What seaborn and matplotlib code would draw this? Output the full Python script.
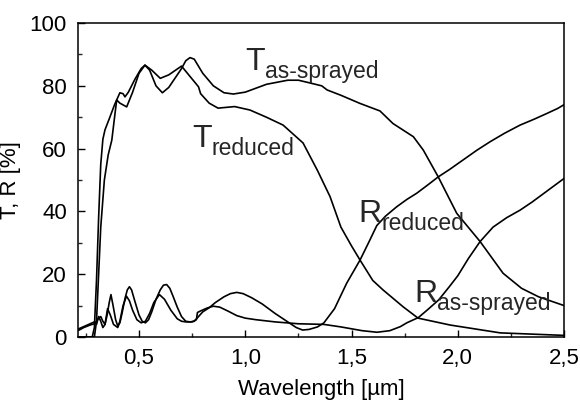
import matplotlib
matplotlib.use("Agg")
import matplotlib.pyplot as plt
import seaborn as sns
import pandas as pd
from matplotlib.ticker import MultipleLocator, FuncFormatter

# ---------------- data ----------------
t_as_x = [0.213, 0.28, 0.29, 0.30, 0.31, 0.32, 0.33, 0.34, 0.36, 0.385,
          0.41, 0.425, 0.434, 0.45, 0.48, 0.51, 0.528, 0.55, 0.58, 0.61,
          0.64, 0.67, 0.70, 0.72, 0.74, 0.76, 0.80, 0.85, 0.90, 0.944,
          1.00, 1.10, 1.20, 1.25, 1.30, 1.36, 1.385, 1.45, 1.54, 1.634,
          1.695, 1.791, 1.838, 1.908, 1.995, 2.105, 2.213, 2.30, 2.38, 2.5]
t_as_y = [0.0, 0.0, 3, 18, 38, 55, 63, 66, 69.5, 74,
          77.8, 77.5, 76.5, 78, 82, 85.5, 86.6, 85, 80, 77.8,
          79.5, 82.5, 85.5, 88, 89, 88.5, 84, 80, 77.8, 77.4,
          78, 80.5, 81.8, 81.8, 81, 80, 78.7, 77, 74.4, 72,
          68, 63.8, 59.5, 51, 39.4, 30.4, 20.3, 15.5, 12.8, 10]

t_red_x = [0.213, 0.29, 0.30, 0.31, 0.32, 0.337, 0.355, 0.372, 0.385, 0.395,
           0.41, 0.442, 0.47, 0.50, 0.528, 0.56, 0.60, 0.64, 0.70, 0.74,
           0.78, 0.79, 0.83, 0.872, 0.95, 1.022, 1.10, 1.178, 1.272, 1.34,
           1.399, 1.45, 1.50, 1.54, 1.60, 1.648, 1.743, 1.813, 1.964, 2.2,
           2.5]
t_red_y = [0.0, 0.0, 5, 20, 35, 50, 58, 62.7, 70, 75.5,
           74.5, 73.3, 78, 84, 86.6, 85, 82.4, 83.5, 86.3, 83,
           79.7, 77.5, 74.5, 72.9, 73.4, 72.3, 70, 67.5, 61.8, 53,
           44.7, 35, 29, 24.5, 18, 15, 9.6, 6, 3.8, 1.3,
           0.5]

r_red_x = [0.213, 0.24, 0.27, 0.29, 0.30, 0.31, 0.32, 0.33, 0.34, 0.35,
           0.36, 0.368, 0.378, 0.39, 0.40, 0.41, 0.42, 0.435, 0.445, 0.455,
           0.465, 0.48, 0.50, 0.515, 0.53, 0.545, 0.56, 0.58, 0.60, 0.615,
           0.63, 0.645, 0.66, 0.68, 0.70, 0.72, 0.74, 0.76, 0.78, 0.80,
           0.83, 0.86, 0.90, 0.93, 0.96, 0.99, 1.03, 1.08, 1.14, 1.20,
           1.24, 1.27, 1.30, 1.34, 1.37, 1.42, 1.477, 1.54, 1.58, 1.619,
           1.66, 1.713, 1.76, 1.807, 1.86, 1.908, 1.96, 2.025, 2.09, 2.152,
           2.22, 2.293, 2.36, 2.419, 2.47, 2.5]
r_red_y = [2.0, 3.0, 3.8, 4.2, 5, 6, 6.5, 5, 4, 7,
           11, 13.5, 10, 5.5, 3.5, 4.5, 7.5, 12.5, 15, 16,
           15, 11.5, 7, 5, 4.5, 5.5, 8, 12, 15, 16.5,
           16.7, 15.5, 13, 9.5, 6.5, 5, 4.8, 5, 6.5, 8,
           9.3, 11, 12.8, 13.8, 14.2, 13.8, 12.5, 10.5, 7.5, 4.8,
           3, 2.2, 2.4, 3.2, 4.5, 9, 17.1, 24.5, 30, 35.5,
           38.5, 41.5, 43.8, 45.8, 48.5, 51, 53.3, 56.4, 59.5, 62.2,
           64.9, 67.5, 69.4, 71.2, 72.8, 74]

r_as_x = [0.213, 0.24, 0.27, 0.29, 0.30, 0.31, 0.32, 0.33, 0.34, 0.352,
          0.365, 0.38, 0.39, 0.40, 0.41, 0.425, 0.441, 0.455, 0.47, 0.49,
          0.51, 0.53, 0.55, 0.57, 0.596, 0.62, 0.65, 0.68, 0.70, 0.72,
          0.75, 0.77, 0.775, 0.79, 0.82, 0.85, 0.88, 0.92, 0.96, 1.00,
          1.05, 1.14, 1.25, 1.37, 1.45, 1.55, 1.62, 1.68, 1.73, 1.76,
          1.815, 1.86, 1.91, 1.96, 2.00, 2.05, 2.105, 2.166, 2.23, 2.293,
          2.35, 2.42, 2.5]
r_as_y = [2.5, 3.3, 4.2, 4.8, 4, 6.5, 5, 3, 4, 9,
          7, 4, 3.5, 3, 5, 10, 13, 11.5, 8.5, 5.5,
          4.5, 5, 7.5, 11, 13.5, 12, 8.5, 5.8, 5, 4.8,
          4.8, 5.5, 7.8, 8.3, 9.2, 9.8, 9.5, 8.2, 6.8, 6,
          5.5, 4.8, 4.2, 4, 3.2, 2, 1.5, 2, 3.3, 4.5,
          6.2, 8.8, 11.8, 16, 19.5, 25, 30.4, 35, 38, 40.4,
          43, 46.5, 50.5]

series = {
    "T as-sprayed": (t_as_x, t_as_y),
    "T reduced": (t_red_x, t_red_y),
    "R reduced": (r_red_x, r_red_y),
    "R as-sprayed": (r_as_x, r_as_y),
}

# curve labels: (main letter, subscript, x, y of main-letter baseline)
labels = [
    ("T", "as-sprayed", 1.0, 85.0),
    ("T", "reduced", 0.749, 60.5),
    ("R", "reduced", 1.531, 36.6),
    ("R", "as-sprayed", 1.794, 11.1),
]

x_ticks = [0.5, 1.0, 1.5, 2.0, 2.5]
y_ticks = [0, 20, 40, 60, 80, 100]

# ---------------- plot ----------------
sns.set_theme(style="ticks")
plt.rcParams["font.family"] = ["Liberation Sans", "DejaVu Sans"]

fig = plt.figure(figsize=(5.8, 4.05), dpi=100)
ax = fig.add_axes([0.1345, 0.168, 0.838, 0.775])

for name, (xs, ys) in series.items():
    df = pd.DataFrame({"x": xs, "y": ys})
    sns.lineplot(data=df, x="x", y="y", ax=ax, color="black", lw=1.2,
                 estimator=None, sort=False)

ax.set_xlim(0.213, 2.5)
ax.set_ylim(0, 100)
ax.set_xticks(x_ticks)
ax.set_yticks(y_ticks)
ax.xaxis.set_minor_locator(MultipleLocator(0.25))
ax.yaxis.set_minor_locator(MultipleLocator(10))
ax.xaxis.set_major_formatter(FuncFormatter(lambda v, p: f"{v:.1f}".replace(".", ",")))
ax.tick_params(which="major", direction="in", length=5, width=1, labelsize=16,
               colors="black", pad=8)
ax.tick_params(which="minor", direction="in", length=3, width=1)
for s in ax.spines.values():
    s.set_visible(True)
    s.set_color("black")
    s.set_linewidth(1.1)

ax.set_xlabel("Wavelength [µm]", fontsize=16, color="black", labelpad=7)
ax.set_ylabel("T, R [%]", fontsize=16, color="black", labelpad=6)

big, small = 23, 16.5
for main, sub, lx, ly in labels:
    t = ax.text(lx, ly, main, fontsize=big, va="baseline", ha="left")
    ax.annotate(sub, xy=(1, 0), xycoords=t, xytext=(0, -4), textcoords="offset points",
                fontsize=small, va="bottom", ha="left")

fig.savefig("out.png", dpi=100)
